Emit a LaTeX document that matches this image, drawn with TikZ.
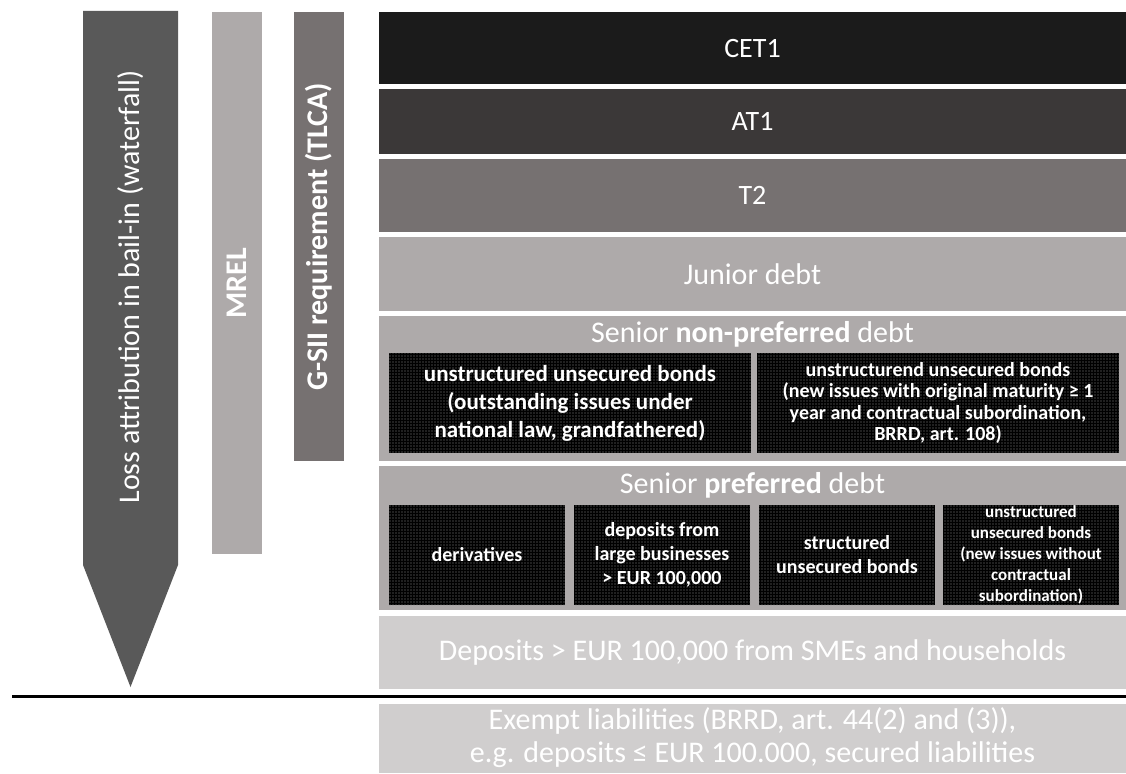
\documentclass[tikz,border=0pt]{standalone}
\usepackage{fontspec}
\setmainfont{Carlito}
\usetikzlibrary{patterns.meta}
\definecolor{cCET}{HTML}{1B1B1B}
\definecolor{cAT}{HTML}{3B3838}
\definecolor{cTtwo}{HTML}{767171}
\definecolor{cMid}{HTML}{AEAAAA}
\definecolor{cLight}{HTML}{D0CECE}
\definecolor{cArrow}{HTML}{595959}
\definecolor{cDot}{HTML}{8C8C8C}
\begin{document}
\begin{tikzpicture}[x=1pt,y=-1pt,
  layer/.style={rectangle, inner sep=0pt, minimum width=747pt, text=white, font=\fontsize{30}{36}\selectfont},
  headtext/.style={inner sep=0pt, text=white, font=\fontsize{30}{36}\selectfont},
  dotbox/.style={rectangle, inner sep=0pt, fill=black, postaction={pattern={Dots[distance=3pt,radius=0.6pt]}, pattern color=cDot}, text=white, align=center, minimum height=100pt, font=\bfseries\fontsize{20}{24}\selectfont},
  bar/.style={rectangle, inner sep=0pt, rotate=90, minimum height=50pt, text=white, font=\bfseries\fontsize{30}{36}\selectfont}
]
\useasboundingbox (0,0) rectangle (1126,773);

% waterfall arrow
\fill[cArrow] (83,11) -- (178,11) -- (178,565) -- (130.5,687) -- (83,565) -- cycle;
\node[rotate=90, inner sep=0pt, text=white, font=\fontsize{30}{36}\selectfont] (loss) at (130.5,287) {Loss attribution in bail-in (waterfall)};

% bars
\node[bar, fill=cMid, minimum width=541.5pt] (mrel) at (237,283.25) {MREL};
\node[bar, fill=cTtwo, minimum width=448.5pt] (gsii) at (319,236.75) {G-SII requirement (TLCA)};

% layers
\node[layer, fill=cCET, minimum height=71.5pt, font=\fontsize{28}{34}\selectfont] (cet1) at (752.5,48.25) {CET1};
\node[layer, fill=cAT, minimum height=65pt, font=\fontsize{28}{34}\selectfont] (at1) at (752.5,121.5) {AT1};
\node[layer, fill=cTtwo, minimum height=73pt, font=\fontsize{28}{34}\selectfont] (t2) at (752.5,195.5) {T2};
\node[layer, fill=cMid, minimum height=74pt] (junior) at (752.5,274) {Junior debt};
\node[layer, fill=cMid, minimum height=145pt] (snp) at (752.5,388.5) {};
\node[headtext] (snphead) at (752.5,334.5) {Senior \textbf{non-preferred} debt};
\node[layer, fill=cMid, minimum height=144pt] (sp) at (752.5,538) {};
\node[headtext] (sphead) at (752.5,485.5) {Senior \textbf{preferred} debt};
\node[layer, fill=cLight, minimum height=73pt] (dep) at (752.5,652.5) {Deposits > EUR 100,000 from SMEs and households};
\node[layer, fill=cLight, minimum height=69pt] (exempt) at (752.5,738.5) {};
\node[headtext, align=center, font=\fontsize{30}{33}\selectfont] (exempttext) at (752.5,737.5) {Exempt liabilities (BRRD, art. 44(2) and (3)),\\e.g. deposits ≤ EUR 100.000, secured liabilities};

% senior non-preferred sub-boxes
\node[dotbox, minimum width=362pt, font=\bfseries\fontsize{23}{28}\selectfont] (snp1) at (570,403) {unstructured unsecured bonds\\(outstanding issues under\\national law, grandfathered)};
\node[dotbox, minimum width=362pt, font=\bfseries\fontsize{20}{21.5}\selectfont] (snp2) at (938,403) {unstructurend unsecured bonds\\(new issues with original maturity ≥ 1\\year and contractual subordination,\\BRRD, art. 108)};

% senior preferred sub-boxes
\node[dotbox, minimum width=176pt] (sp1) at (477,555) {derivatives};
\node[dotbox, minimum width=176pt] (sp2) at (662,555) {deposits from\\large businesses\\> EUR 100,000};
\node[dotbox, minimum width=176pt] (sp3) at (847,555) {structured\\unsecured bonds};
\node[dotbox, minimum width=176pt, font=\bfseries\fontsize{17}{21}\selectfont] (sp4) at (1031,555) {unstructured\\unsecured bonds\\(new issues without\\contractual\\subordination)};

% separator line
\coordinate (lineL) at (12,696);
\coordinate (lineR) at (1126,696);
\draw[line width=3pt] (lineL) -- (lineR);
\end{tikzpicture}
\end{document}
